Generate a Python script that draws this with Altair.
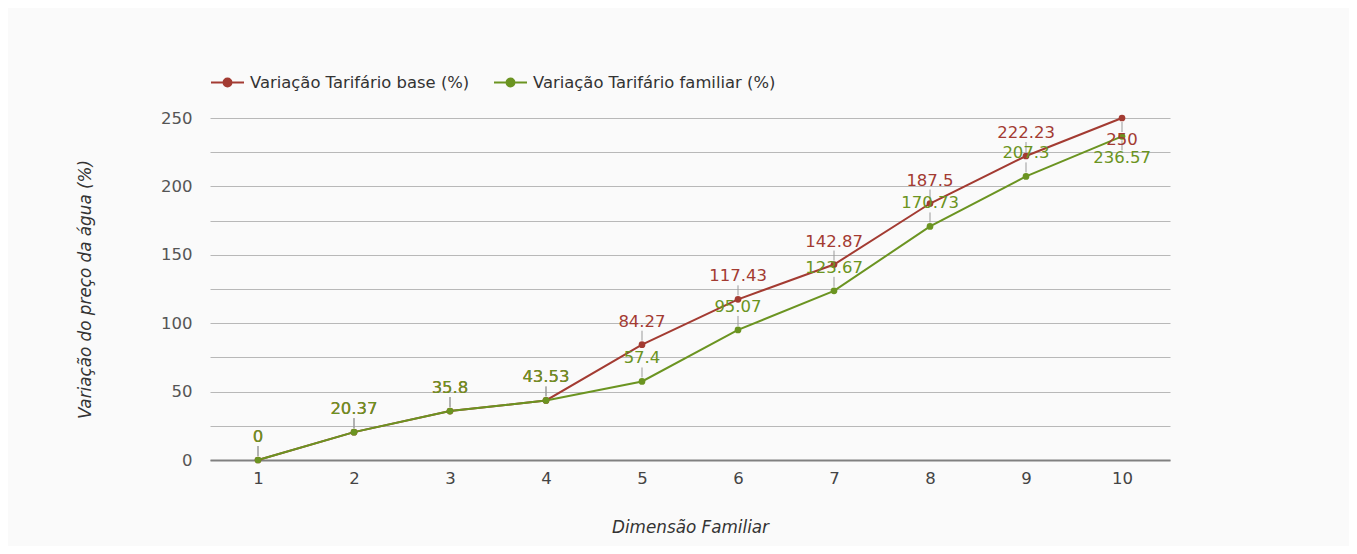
import altair as alt
import pandas as pd

dims = [1, 2, 3, 4, 5, 6, 7, 8, 9, 10]
base_vals = [0, 20.37, 35.8, 43.53, 84.27, 117.43, 142.87, 187.5, 222.23, 250]
fam_vals = [0, 20.37, 35.8, 43.53, 57.4, 95.07, 123.67, 170.73, 207.3, 236.57]
series_names = ["Variação Tarifário base (%)", "Variação Tarifário familiar (%)"]
series_colors = ["#a33b32", "#6b9421"]

rows = []
for name, vals in zip(series_names, [base_vals, fam_vals]):
    for d, v in zip(dims, vals):
        rows.append({"dim": d, "v": v, "series": name, "lbl": f"{v:g}"})
df = pd.DataFrame(rows)

FONT = "DejaVu Sans"
last = dims[-1]
FS = 16.5
TFS = 16.8

x = alt.X(
    "dim:O",
    scale=alt.Scale(type="point", padding=0.5),
    axis=alt.Axis(
        title="Dimensão Familiar", labelAngle=0, ticks=False, grid=False,
        domainColor="#808080", domainWidth=2,
        labelFontSize=FS, labelColor="#444", labelPadding=10,
        titleFontStyle="italic", titleFontWeight="normal", titleFontSize=TFS,
        titleColor="#333", titlePadding=33,
    ),
)
y = alt.Y(
    "v:Q",
    scale=alt.Scale(domain=[0, 250], nice=False),
    axis=alt.Axis(
        title="Variação do preço da água (%)",
        values=list(range(0, 251, 25)),
        labelExpr="datum.value % 50 === 0 ? datum.label : ''",
        ticks=False, domain=False, gridColor="#b8b8b8", gridWidth=1,
        labelFontSize=FS, labelColor="#555", labelPadding=18,
        titleFontStyle="italic", titleFontWeight="normal", titleFontSize=TFS,
        titleColor="#333", titlePadding=66,
    ),
)
cscale = alt.Scale(domain=series_names, range=series_colors)

legend = alt.Legend(
    orient="none", legendX=0, legendY=-53, direction="horizontal", title=None,
    labelFontSize=16.4, labelColor="#333", labelFont=FONT, labelLimit=0,
    symbolType="M-1,0H1M-0.24,0A0.24,0.24,0,1,1,0.24,0A0.24,0.24,0,1,1,-0.24,0Z",
    symbolSize=1089, symbolStrokeWidth=2, columnPadding=20, labelOffset=5,
    symbolOpacity=1,
)

base = alt.Chart(df)

lines = base.mark_line(strokeWidth=2).encode(
    x=x, y=y, color=alt.Color("series:N", scale=cscale, legend=legend)
)
pts = base.mark_circle(size=45, opacity=1).encode(
    x=x, y=y, color=alt.Color("series:N", scale=cscale, legend=legend)
)
lead_up = base.transform_filter(f"datum.dim < {last}").mark_rule(
    color="#9a9a9a", strokeWidth=1, yOffset=-4, y2Offset=-14
).encode(x=x, y=y, y2="v:Q")
lead_dn = base.transform_filter(f"datum.dim == {last}").mark_rule(
    color="#9a9a9a", strokeWidth=1, yOffset=4, y2Offset=14
).encode(x=x, y=y, y2="v:Q")
txt_up = base.transform_filter(f"datum.dim < {last}").mark_text(
    fontSize=FS, dy=-23, baseline="middle", font=FONT
).encode(x=x, y=y, text="lbl:N", color=alt.Color("series:N", scale=cscale, legend=None))
txt_dn = base.transform_filter(f"datum.dim == {last}").mark_text(
    fontSize=FS, dy=22, baseline="middle", font=FONT
).encode(x=x, y=y, text="lbl:N", color=alt.Color("series:N", scale=cscale, legend=None))

chart = alt.layer(lines, pts, lead_up, lead_dn, txt_up, txt_dn).properties(
    width=960, height=342,
    autosize=alt.AutoSizeParams(type="none"),
    padding={"left": 202, "top": 110, "right": 179, "bottom": 86},
    background="#fafafa",
).configure(font=FONT).configure_view(stroke=None)

chart.save("out.html", embed_options={"renderer": "svg", "actions": False})
